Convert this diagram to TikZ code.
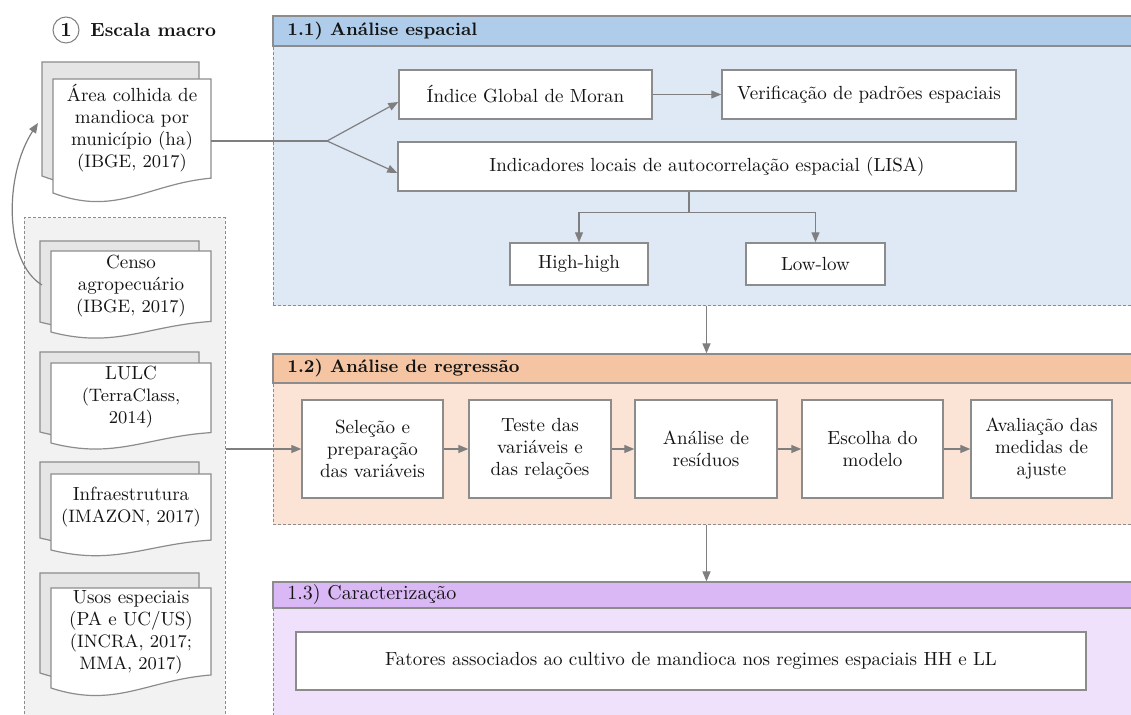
\documentclass[tikz,border=0pt]{standalone}
\usepackage{fontspec}
\usetikzlibrary{arrows.meta,calc}
\definecolor{lncol}{HTML}{7F7F7F}
\definecolor{boxcol}{HTML}{8C8C8C}
\definecolor{hA}{HTML}{AFCDEA}
\definecolor{bA}{HTML}{DEE9F5}
\definecolor{hB}{HTML}{F5C5A3}
\definecolor{bB}{HTML}{FBE3D5}
\definecolor{hC}{HTML}{DAB8F6}
\definecolor{bC}{HTML}{EFE0FC}
\definecolor{grpfill}{HTML}{F2F2F2}
\definecolor{docbk}{HTML}{E5E5E5}
\definecolor{txt}{HTML}{141414}
\newcommand\docpath[5]{%
  \path[#5] ({#1},{#2}) -- ({#3},{#2}) -- ({#3},{(#4)-0.13*((#4)-(#2))})
    .. controls ({(#1)+0.6*((#3)-(#1))},{(#4)-0.08*((#4)-(#2))})
    and ({(#1)+0.4*((#3)-(#1))},{(#4)+0.21*((#4)-(#2))}) .. ({#1},{#4}) -- cycle;}
\newcommand\docpair[5]{% x1,y1,x2,yb,backdy
  \docpath{(#1)-11}{(#2)-(#5)}{(#3)-12}{(#4)-(#5)}{docback}
  \docpath{#1}{#2}{#3}{#4}{docfront}}
\begin{document}
\begin{tikzpicture}[x=0.5pt,y=-0.5pt,
  font=\fontsize{9.5}{11}\selectfont, text=txt,
  wh/.style 2 args={minimum width=#1*0.5pt, minimum height=#2*0.5pt},
  ln/.style={draw=lncol, line width=0.6pt},
  arr/.style={ln, -{Triangle[length=5pt,width=4pt]}},
  box/.style={draw=boxcol, line width=0.7pt, fill=white, align=center, inner sep=0pt},
  docback/.style={draw=boxcol, line width=0.6pt, fill=docbk},
  docfront/.style={draw=boxcol, line width=0.6pt, fill=white},
  doctxt/.style={align=center, inner sep=0pt},
  fine dash/.style={dash pattern=on 1.5pt off 1pt},
  secbody/.style={draw=boxcol, fine dash, line width=0.5pt, inner sep=0pt},
  sechead/.style={draw=boxcol, line width=0.6pt, inner sep=0pt},
  sectitle/.style={anchor=west, inner sep=0pt, font=\bfseries\fontsize{9}{11}\selectfont}]
\useasboundingbox (0,0) rectangle (1131,715);
\clip (0,0) rectangle (1131,715);

% title
\node[draw=lncol, line width=0.5pt, circle, minimum size=13pt, inner sep=0pt,
      font=\bfseries\fontsize{10}{12}\selectfont] (one) at (66,30) {1};
\node[anchor=west, inner sep=0pt, font=\bfseries\fontsize{9.5}{11}\selectfont] (esc) at (90,30) {Escala macro};

% group box of sources
\node[fill=grpfill, draw=boxcol, fine dash, line width=0.5pt, wh={201}{520}, inner sep=0pt] (grp) at (124.5,478) {};

% documents
\docpair{53}{79}{211}{193}{17}
\node[doctxt] (d1) at (132,128.5) {Área colhida de\\mandioca por\\município (ha)\\{\fontsize{9}{10.5}\selectfont(IBGE, 2017)}};
\docpair{51}{251}{211}{332}{10}
\node[doctxt] (d2) at (131,286.5) {Censo\\agropecuário\\{\fontsize{9}{10.5}\selectfont(IBGE, 2017)}};
\docpair{51}{363}{211}{443}{11}
\node[doctxt] (d3) at (131,397) {LULC\\{\fontsize{9}{10.5}\selectfont(TerraClass,}\\{\fontsize{9}{10.5}\selectfont 2014)}};
\docpair{51}{474}{211}{550}{12}
\node[doctxt] (d4) at (131,507.5) {Infraestrutura\\{\fontsize{9}{10.5}\selectfont(IMAZON, 2017)}};
\docpair{51}{588}{211}{688}{15}
\node[doctxt] (d5) at (131,632.5) {Usos especiais\\(PA e UC/US)\\{\fontsize{9}{10.5}\selectfont(INCRA, 2017;}\\{\fontsize{9}{10.5}\selectfont MMA, 2017)}};

\coordinate (d1r) at (211,141);
\coordinate (d1l) at (38,123);
\coordinate (d2l) at (42,285);
\draw[arr] (d2l) .. controls (4,262) and (4,175) .. (d1l);

% section 1.1
\node[secbody, fill=bA, wh={867}{290}] (s1) at (706.5,161) {};
\node[sechead, fill=hA, wh={867}{30}] (s1h) at (706.5,31) {};
\node[sectitle] (t1) at (287,31) {1.1) Análise espacial};

\node[box, wh={253}{49}] (moran) at (525.5,94.5) {Índice Global de Moran};
\node[box, wh={294}{49}] (verif) at (869,94.5) {Verificação de padrões espaciais};
\node[box, wh={618}{49}] (lisa) at (707,166.5) {Indicadores locais de autocorrelação espacial (LISA)};
\node[box, wh={138}{42}] (hh) at (579,264) {High-high};
\node[box, wh={139}{42}] (ll) at (815.5,264) {Low-low};

\coordinate (split) at (327,141);
\draw[ln] (d1r) -- (split);
\draw[arr] (split) -- ($(moran.west)+(0,7.5)$);
\draw[arr] (split) -- ($(lisa.west)+(0,6.5)$);
\draw[arr] (moran) -- (verif);
\coordinate (lisab) at ($(lisa.south)+(-18,0)$);
\draw[arr] (lisab) -- ++(0,21) -| (hh.north);
\draw[arr] (lisab) -- ++(0,21) -| (ll.north);

% section 1.2
\node[secbody, fill=bB, wh={867}{171}] (s2) at (706.5,439.5) {};
\node[sechead, fill=hB, wh={867}{29}] (s2h) at (706.5,368.5) {};
\node[sectitle] (t2) at (287,368) {1.2) Análise de regressão};

\node[box, wh={141}{98}] (sel) at (372.5,449) {Seleção e\\preparação\\das variáveis};
\node[box, wh={142}{98}] (tes) at (540,449) {Teste das\\variáveis e\\das relações};
\node[box, wh={142}{98}] (res) at (706,449) {Análise de\\resíduos};
\node[box, wh={141}{98}] (esc2) at (872.5,449) {Escolha do\\modelo};
\node[box, wh={141}{98}] (ava) at (1041.5,449) {Avaliação das\\medidas de\\ajuste};

\draw[arr] (grp.east |- sel.west) -- (sel.west);
\draw[arr] (sel) -- (tes);
\draw[arr] (tes) -- (res);
\draw[arr] (res) -- (esc2);
\draw[arr] (esc2) -- (ava);

% section 1.3
\node[secbody, fill=bC, wh={867}{150}] (s3) at (706.5,657) {};
\node[sechead, fill=hC, wh={867}{26}] (s3h) at (706.5,595) {};
\node[sectitle, font=\fontsize{10}{12}\selectfont] (t3) at (287,594.5) {1.3) Caracterização};
\node[box, wh={790}{58}] (fat) at (691,661) {Fatores associados ao cultivo de mandioca nos regimes espaciais HH e LL};

\draw[arr] (s1.south) -- (s2h.north);
\draw[arr] (s2.south) -- (s3h.north);
\end{tikzpicture}
\end{document}
